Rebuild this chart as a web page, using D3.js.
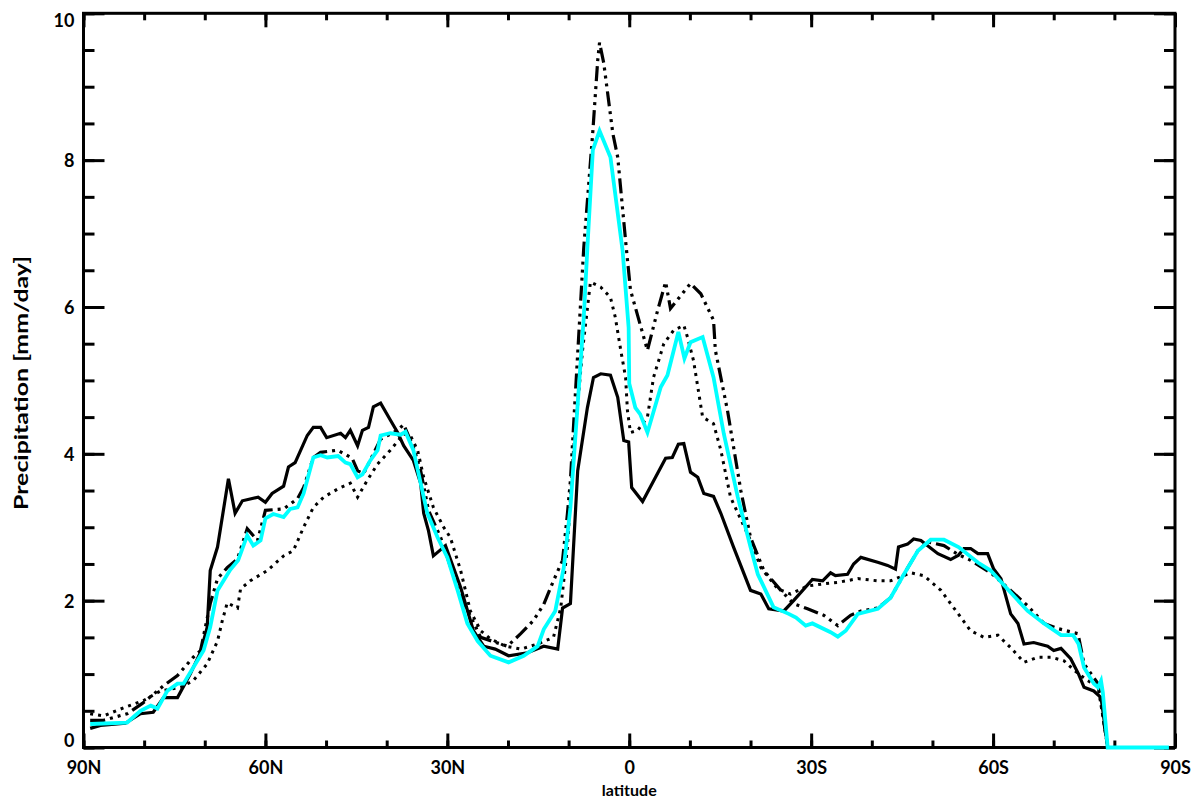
<!DOCTYPE html>
<html>
<head>
<meta charset="utf-8">
<script src="https://cdn.jsdelivr.net/npm/d3@7"></script>
<style>
  body { margin: 0; background: #fff; }
  svg text { font-family: Lato, "DejaVu Sans", sans-serif; font-weight: bold; fill: #000; }
</style>
</head>
<body>
<svg id="chart"></svg>
<script>
// latitude / value pairs (positive = N, negative = S)
let solidLat = [88.9, 87.2, 83.1, 80.6, 78.5, 76.8, 74.5, 72.4, 70.7, 69.6, 69.1, 67.9, 66.1, 65.0, 63.8, 61.2, 60.0, 58.9, 57.0, 56.2, 55.1, 53.1, 52.1, 50.9, 49.9, 47.6, 46.8, 46.0, 44.8, 44.0, 43.0, 42.2, 41.0, 39.4, 38.2, 37.2, 35.6, 34.4, 33.9, 33.1, 32.3, 30.3, 27.8, 25.7, 24.0, 22.1, 19.9, 16.8, 14.1, 11.8, 11.0, 9.7, 8.5, 6.9, 5.9, 4.7, 3.1, 1.9, 0.9, 0.1, -0.4, -2.2, -6.0, -7.1, -8.1, -9.0, -10.1, -11.3, -12.3, -13.9, -15.1, -17.2, -20.0, -21.7, -23.0, -25.5, -27.1, -30.2, -31.9, -33.2, -34.0, -36.0, -37.0, -38.2, -41.1, -42.6, -43.9, -44.4, -45.9, -46.9, -48.1, -50.9, -53.0, -54.3, -55.2, -56.3, -57.5, -59.1, -60.1, -61.3, -62.9, -64.1, -65.1, -66.7, -69.0, -70.0, -71.2, -72.8, -74.1, -75.0, -76.6, -77.8, -78.1, -78.9, -89.0];
let solidVal = [0.26, 0.30, 0.33, 0.46, 0.48, 0.68, 0.68, 1.00, 1.30, 1.64, 2.41, 2.73, 3.66, 3.19, 3.36, 3.41, 3.34, 3.46, 3.56, 3.82, 3.88, 4.25, 4.36, 4.36, 4.22, 4.28, 4.22, 4.32, 4.11, 4.32, 4.36, 4.64, 4.69, 4.46, 4.29, 4.11, 3.91, 3.60, 3.19, 2.95, 2.61, 2.75, 2.18, 1.59, 1.38, 1.34, 1.25, 1.29, 1.38, 1.34, 1.90, 1.96, 3.77, 4.63, 5.04, 5.09, 5.07, 4.77, 4.18, 4.16, 3.54, 3.35, 3.94, 3.95, 4.13, 4.14, 3.75, 3.68, 3.46, 3.42, 3.19, 2.73, 2.14, 2.09, 1.89, 1.86, 2.00, 2.29, 2.27, 2.38, 2.34, 2.36, 2.50, 2.59, 2.52, 2.48, 2.43, 2.73, 2.77, 2.84, 2.82, 2.64, 2.56, 2.62, 2.71, 2.71, 2.64, 2.64, 2.43, 2.30, 1.82, 1.69, 1.41, 1.43, 1.38, 1.32, 1.35, 1.21, 1.00, 0.82, 0.77, 0.68, 0.50, 0.00, 0.00];

let dashLat = [88.9, 86.7, 82.8, 80.3, 76.8, 74.5, 71.9, 70.7, 69.1, 67.9, 66.3, 64.6, 63.0, 61.3, 60.0, 57.0, 54.7, 53.7, 52.1, 50.9, 48.1, 45.7, 44.8, 43.8, 41.0, 38.2, 37.2, 35.6, 34.4, 33.1, 31.1, 28.0, 24.5, 20.1, 17.9, 15.8, 14.1, 12.5, 11.0, 10.2, 9.7, 7.5, 6.0, 5.2, 4.9, 4.2, 2.7, 1.9, 0.6, -0.2, -3.0, -4.7, -6.0, -6.8, -10.1, -11.8, -13.9, -14.2, -16.2, -18.4, -20.0, -22.2, -25.0, -27.1, -29.4, -32.1, -34.4, -36.5, -38.2, -41.0, -43.1, -45.3, -47.6, -49.2, -51.9, -54.2, -56.3, -59.6, -62.9, -65.7, -68.4, -70.7, -74.0, -75.0, -77.3, -78.9, -89.0];
let dashVal = [0.37, 0.37, 0.46, 0.60, 0.84, 0.98, 1.23, 1.32, 1.96, 2.30, 2.45, 2.57, 2.98, 2.82, 3.23, 3.25, 3.39, 3.54, 3.95, 4.02, 4.05, 3.94, 3.77, 3.73, 4.20, 4.32, 4.40, 4.09, 3.77, 3.23, 2.86, 2.10, 1.50, 1.38, 1.55, 1.73, 1.95, 2.27, 2.55, 3.18, 3.64, 6.81, 8.40, 9.36, 9.60, 9.32, 8.36, 8.04, 6.90, 6.23, 5.41, 5.96, 6.34, 5.98, 6.32, 6.18, 5.82, 5.41, 4.59, 3.50, 2.86, 2.41, 2.14, 1.96, 1.89, 1.80, 1.66, 1.80, 1.86, 1.90, 2.04, 2.36, 2.68, 2.80, 2.75, 2.63, 2.55, 2.38, 2.14, 1.93, 1.69, 1.62, 1.55, 1.14, 0.87, 0.00, 0.00];

let dotLat = [88.9, 86.7, 83.4, 80.1, 77.3, 74.0, 71.9, 69.6, 67.9, 67.1, 66.3, 64.6, 64.1, 62.5, 59.7, 57.0, 55.4, 53.7, 52.1, 50.4, 48.1, 46.0, 44.8, 43.2, 41.5, 39.4, 37.2, 36.1, 34.9, 33.9, 32.3, 30.6, 29.5, 27.8, 26.2, 24.5, 22.9, 20.4, 17.9, 15.1, 12.5, 11.3, 10.2, 9.2, 7.7, 6.4, 4.7, 3.1, 2.3, 1.4, 0.6, 0.3, -0.2, -1.4, -3.0, -4.0, -5.7, -7.3, -9.0, -9.6, -10.6, -11.4, -12.1, -13.9, -15.1, -16.7, -20.0, -21.7, -24.5, -26.6, -29.4, -32.1, -34.5, -37.7, -41.0, -43.1, -46.4, -48.6, -51.4, -53.0, -54.7, -56.3, -58.5, -60.8, -62.9, -65.1, -67.4, -69.6, -71.7, -73.4, -75.6, -77.3, -78.9, -89.0];
let dotVal = [0.46, 0.43, 0.54, 0.64, 0.77, 0.82, 0.91, 1.14, 1.45, 1.73, 1.97, 1.90, 2.16, 2.27, 2.41, 2.61, 2.68, 3.00, 3.27, 3.41, 3.52, 3.60, 3.41, 3.64, 3.86, 4.05, 4.27, 4.25, 4.05, 3.68, 3.27, 3.00, 2.86, 2.41, 1.86, 1.59, 1.48, 1.38, 1.34, 1.41, 1.50, 1.90, 2.72, 4.04, 5.41, 6.34, 6.27, 6.13, 5.86, 5.41, 5.04, 4.59, 4.29, 4.32, 4.50, 5.04, 5.50, 5.68, 5.75, 5.59, 5.27, 4.86, 4.50, 4.41, 4.05, 3.41, 2.82, 2.45, 2.16, 2.09, 2.20, 2.23, 2.25, 2.30, 2.27, 2.27, 2.38, 2.34, 2.14, 1.96, 1.77, 1.59, 1.50, 1.53, 1.36, 1.16, 1.23, 1.23, 1.18, 1.05, 0.91, 0.84, 0.00, 0.00];

let cyanLat = [88.9, 82.8, 80.6, 78.9, 77.8, 76.2, 74.5, 73.5, 71.9, 70.2, 69.1, 67.9, 65.8, 64.5, 63.0, 62.0, 60.8, 60.0, 58.7, 57.0, 55.9, 54.7, 53.7, 52.1, 50.9, 49.8, 48.0, 46.8, 46.0, 44.8, 44.0, 42.7, 41.5, 41.0, 39.4, 37.7, 36.9, 35.6, 34.4, 33.3, 31.6, 30.0, 28.3, 26.7, 25.0, 22.9, 19.9, 17.4, 15.1, 14.1, 12.2, 10.8, 9.7, 7.5, 6.9, 6.0, 4.9, 3.1, 1.1, 0.1, 0.0, -1.0, -1.8, -3.0, -5.2, -6.3, -8.1, -9.1, -10.1, -12.1, -13.9, -15.6, -17.9, -20.0, -21.2, -23.8, -26.3, -27.5, -29.1, -30.2, -33.2, -34.4, -35.7, -37.7, -41.0, -43.1, -45.3, -47.6, -49.7, -51.9, -54.3, -57.5, -59.6, -62.9, -65.7, -68.4, -71.2, -73.2, -74.1, -75.0, -76.6, -77.3, -77.8, -78.1, -78.9, -89.0];
let cyanVal = [0.32, 0.34, 0.50, 0.57, 0.53, 0.77, 0.87, 0.87, 1.09, 1.32, 1.64, 2.14, 2.42, 2.55, 2.89, 2.75, 2.82, 3.12, 3.18, 3.14, 3.25, 3.27, 3.46, 3.95, 3.98, 3.95, 3.97, 3.88, 3.86, 3.68, 3.72, 3.91, 4.05, 4.25, 4.28, 4.26, 4.30, 4.05, 3.60, 3.19, 2.86, 2.59, 2.14, 1.69, 1.45, 1.25, 1.16, 1.25, 1.38, 1.61, 1.86, 2.45, 3.27, 5.86, 6.81, 8.14, 8.40, 8.04, 6.77, 5.72, 4.96, 4.63, 4.54, 4.29, 4.91, 5.07, 5.66, 5.30, 5.52, 5.59, 5.04, 4.27, 3.41, 2.73, 2.36, 1.91, 1.82, 1.77, 1.66, 1.69, 1.57, 1.51, 1.59, 1.82, 1.89, 2.04, 2.36, 2.68, 2.83, 2.83, 2.73, 2.52, 2.41, 2.11, 1.86, 1.69, 1.53, 1.53, 1.41, 1.09, 0.87, 0.82, 0.91, 0.75, 0.00, 0.00];

let xMajor = [90, 60, 30, 0, -30, -60, -90];
let xLabels = ["90N", "60N", "30N", "0", "30S", "60S", "90S"];
let yMajor = [0, 2, 4, 6, 8, 10];

let width = 1198, height = 800;
let plotLeft = 83.5, plotRight = 1175, plotTop = 13.3, plotBottom = 747.5;

let svg = d3.select("#chart").attr("width", width).attr("height", height);

let xScale = d3.scaleLinear().domain([90, -90]).range([plotLeft, plotRight]);
let yScale = d3.scaleLinear().domain([0, 10]).range([plotBottom, plotTop]);

let drawAxes = () => {
  let xMinor = d3.range(90, -91, -10);
  let yMinor = d3.range(0, 10.01, 0.5);

  let styleAxis = g => {
    g.select(".domain").remove();
    g.selectAll(".tick line").attr("stroke", "#000").attr("stroke-width", 3);
    g.selectAll(".tick text").style("font-size", "18px");
  };

  // bottom
  svg.append("g").attr("transform", `translate(0,${plotBottom})`)
    .call(d3.axisBottom(xScale).tickValues(xMinor).tickSize(-7).tickFormat(""))
    .call(styleAxis);
  svg.append("g").attr("transform", `translate(0,${plotBottom})`)
    .call(d3.axisBottom(xScale).tickValues(xMajor).tickSize(-14).tickPadding(14)
      .tickFormat((d, i) => xLabels[i]))
    .call(styleAxis);

  // top
  svg.append("g").attr("transform", `translate(0,${plotTop})`)
    .call(d3.axisTop(xScale).tickValues(xMinor).tickSize(-7).tickFormat(""))
    .call(styleAxis);
  svg.append("g").attr("transform", `translate(0,${plotTop})`)
    .call(d3.axisTop(xScale).tickValues(xMajor).tickSize(-14).tickFormat(""))
    .call(styleAxis);

  // left
  svg.append("g").attr("transform", `translate(${plotLeft},0)`)
    .call(d3.axisLeft(yScale).tickValues(yMinor).tickSize(-11).tickFormat(""))
    .call(styleAxis);
  let yAx = svg.append("g").attr("transform", `translate(${plotLeft},0)`)
    .call(d3.axisLeft(yScale).tickValues(yMajor).tickSize(-21).tickPadding(9).tickFormat(d3.format("d")))
    .call(styleAxis);
  yAx.selectAll(".tick text").attr("dy", d => d === 0 ? "-0.05em" : d === 10 ? "0.75em" : "0.36em");

  // right
  svg.append("g").attr("transform", `translate(${plotRight},0)`)
    .call(d3.axisRight(yScale).tickValues(yMinor).tickSize(-11).tickFormat(""))
    .call(styleAxis);
  svg.append("g").attr("transform", `translate(${plotRight},0)`)
    .call(d3.axisRight(yScale).tickValues(yMajor).tickSize(-21).tickFormat(""))
    .call(styleAxis);

  svg.append("rect")
    .attr("x", plotLeft).attr("y", plotTop)
    .attr("width", plotRight - plotLeft).attr("height", plotBottom - plotTop)
    .attr("fill", "none").attr("stroke", "#000").attr("stroke-width", 3);
};

let drawLines = () => {
  let line = d3.line().x(d => xScale(d[0])).y(d => yScale(d[1]));
  let series = [
    { lat: dotLat, val: dotVal, color: "#000", w: 3, dash: "3,5" },
    { lat: dashLat, val: dashVal, color: "#000", w: 3.2, dash: "15,5,3,5,3,5,3,5" },
    { lat: solidLat, val: solidVal, color: "#000", w: 3.2, dash: null },
    { lat: cyanLat, val: cyanVal, color: "#00ffff", w: 3.8, dash: null }
  ];
  series.forEach(s => {
    svg.append("path")
      .datum(s.lat.map((l, i) => [l, s.val[i]]))
      .attr("d", line)
      .attr("fill", "none")
      .attr("stroke", s.color)
      .attr("stroke-width", s.w)
      .attr("stroke-dasharray", s.dash);
  });
};

let addTitles = () => {
  svg.append("text")
    .attr("x", xScale(0)).attr("y", 796)
    .attr("text-anchor", "middle")
    .style("font-size", "16px")
    .text("latitude");

  svg.append("text")
    .attr("transform", "translate(28,383) rotate(-90)")
    .attr("text-anchor", "middle")
    .attr("textLength", 254)
    .attr("lengthAdjust", "spacingAndGlyphs")
    .style("font-size", "19px")
    .text("Precipitation [mm/day]");
};

drawAxes();
drawLines();
addTitles();
</script>
</body>
</html>
